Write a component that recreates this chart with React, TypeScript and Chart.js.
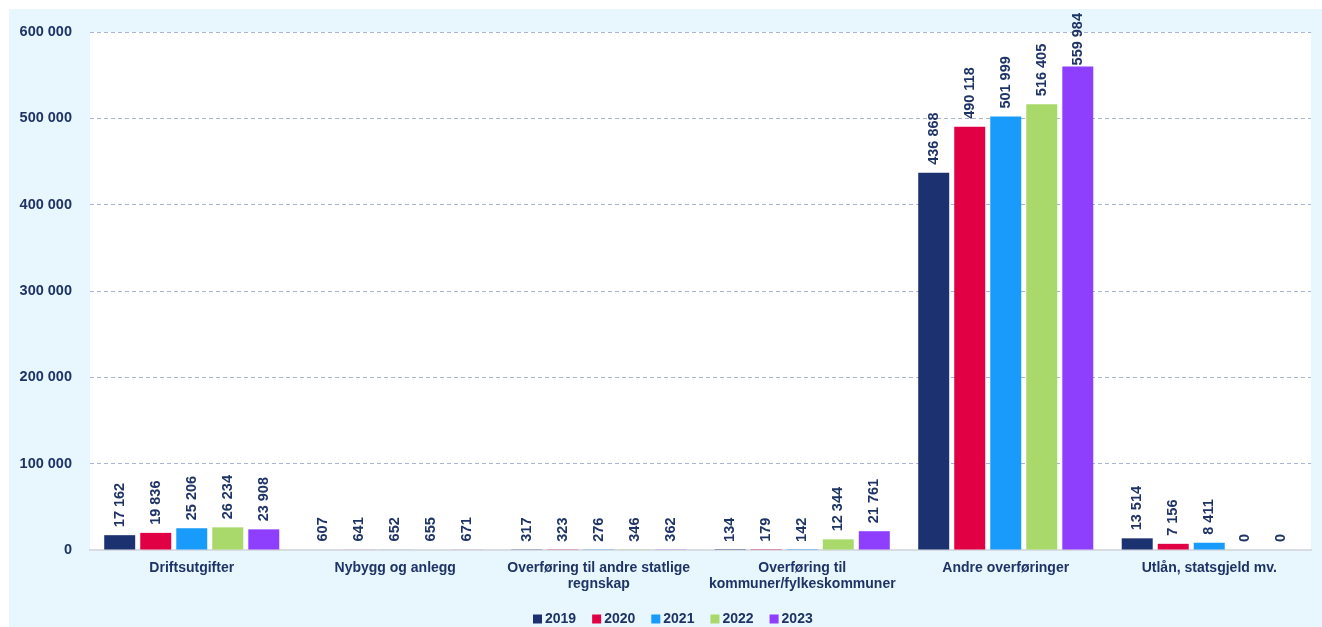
import React, { useEffect, useRef } from "react";
import { Chart, registerables } from "chart.js";

Chart.register(...registerables);

const categories: (string | string[])[] = [
  "Driftsutgifter",
  "Nybygg og anlegg",
  ["Overføring til andre statlige", "regnskap"],
  ["Overføring til", "kommuner/fylkeskommuner"],
  "Andre overføringer",
  "Utlån, statsgjeld mv.",
];

const years = ["2019", "2020", "2021", "2022", "2023"];

const values2019 = [17162, 607, 317, 134, 436868, 13514];
const values2020 = [19836, 641, 323, 179, 490118, 7156];
const values2021 = [25206, 652, 276, 142, 501999, 8411];
const values2022 = [26234, 655, 346, 12344, 516405, 0];
const values2023 = [23908, 671, 362, 21761, 559984, 0];

const seriesValues = [values2019, values2020, values2021, values2022, values2023];
const seriesColors = ["#1B3170", "#E10044", "#199BFC", "#A9D96B", "#8D3FFD"];

const yTicks = [0, 100000, 200000, 300000, 400000, 500000, 600000];

const TEXT_COLOR = "#1E3366";
const FONT_FAMILY = "'Liberation Sans', Arial, Helvetica, sans-serif";

const fmt = (v: number) => String(Math.round(v)).replace(/\B(?=(\d{3})+(?!\d))/g, " ");

const CANVAS_W = 1313;
const CANVAS_H = 618;

export default function App() {
  const canvasRef = useRef<HTMLCanvasElement | null>(null);

  useEffect(() => {
    if (!canvasRef.current) return;

    const plotBg = {
      id: "plotBg",
      beforeDraw(chart: any) {
        const { ctx, chartArea } = chart;
        ctx.save();
        ctx.fillStyle = "#FFFFFF";
        ctx.fillRect(chartArea.left, chartArea.top, chartArea.right - chartArea.left, chartArea.bottom - chartArea.top);
        ctx.restore();
      },
    };

    const valueLabels = {
      id: "valueLabels",
      afterDatasetsDraw(chart: any) {
        const { ctx } = chart;
        ctx.save();
        ctx.font = `bold 14.5px ${FONT_FAMILY}`;
        ctx.fillStyle = TEXT_COLOR;
        chart.data.datasets.forEach((ds: any, di: number) => {
          const meta = chart.getDatasetMeta(di);
          meta.data.forEach((el: any, i: number) => {
            const text = fmt(ds.data[i]);
            const w = ctx.measureText(text).width;
            let start = el.y - 8;
            if (start - w < 4) start = 4 + w;
            ctx.save();
            ctx.translate(el.x, start);
            ctx.rotate(-Math.PI / 2);
            ctx.textAlign = "left";
            ctx.textBaseline = "middle";
            ctx.fillText(text, 0, 0);
            ctx.restore();
          });
        });
        ctx.restore();
      },
    };

    const customLegend = {
      id: "customLegend",
      afterDraw(chart: any) {
        const { ctx } = chart;
        ctx.save();
        ctx.font = `bold 14px ${FONT_FAMILY}`;
        ctx.textBaseline = "middle";
        ctx.textAlign = "left";
        let x = 524;
        const yc = 610;
        chart.data.datasets.forEach((ds: any) => {
          ctx.fillStyle = ds.backgroundColor;
          ctx.fillRect(x, yc - 4.5, 9, 9);
          ctx.fillStyle = TEXT_COLOR;
          ctx.fillText(ds.label, x + 12, yc);
          const w = ctx.measureText(ds.label).width;
          x += 12 + w + 16;
        });
        ctx.restore();
      },
    };

    const chart = new Chart(canvasRef.current, {
      type: "bar",
      data: {
        labels: categories as any,
        datasets: years.map((y, i) => ({
          label: y,
          data: seriesValues[i],
          backgroundColor: seriesColors[i],
          borderWidth: 0,
          categoryPercentage: 0.885,
          barPercentage: 0.86,
        })),
      },
      options: {
        animation: false,
        responsive: false,
        maintainAspectRatio: false,
        layout: { padding: { top: 23, right: 11, bottom: 0, left: 0 } },
        plugins: {
          legend: { display: false },
          tooltip: { enabled: false },
          title: { display: false },
        },
        scales: {
          x: {
            grid: { display: false, drawTicks: false },
            border: { display: true, color: "#D9DDE3", width: 2 },
            ticks: {
              color: TEXT_COLOR,
              font: { family: FONT_FAMILY, size: 14, weight: "bold", lineHeight: 1.15 },
              padding: 10,
              maxRotation: 0,
              autoSkip: false,
            },
            afterFit: (scale: any) => {
              scale.height = 77;
              scale.paddingLeft = 0;
              scale.paddingRight = 0;
            },
          },
          y: {
            min: 0,
            max: 600000,
            afterBuildTicks: (scale: any) => {
              scale.ticks = yTicks.map((v) => ({ value: v }));
            },
            grid: {
              drawTicks: false,
              color: (c: any) => (c.tick && c.tick.value === 0 ? "rgba(0,0,0,0)" : "#A9B5D6"),
              lineWidth: 1,
            },
            border: { display: false, dash: [4, 3] },
            ticks: {
              color: TEXT_COLOR,
              font: { family: FONT_FAMILY, size: 14.5, weight: "bold" },
              padding: 18,
              callback: (v: any) => fmt(Number(v)),
            },
            afterFit: (scale: any) => {
              scale.width = 81;
              scale.paddingTop = 0;
              scale.paddingBottom = 0;
            },
          },
        },
      } as any,
      plugins: [plotBg, valueLabels, customLegend],
    });

    return () => {
      chart.destroy();
    };
  }, []);

  return (
    <div
      style={{
        position: "absolute",
        left: 9,
        top: 9,
        width: CANVAS_W,
        height: CANVAS_H,
        background: "#E8F6FE",
      }}
    >
      <canvas ref={canvasRef} width={CANVAS_W} height={CANVAS_H} style={{ display: "block" }} />
    </div>
  );
}
